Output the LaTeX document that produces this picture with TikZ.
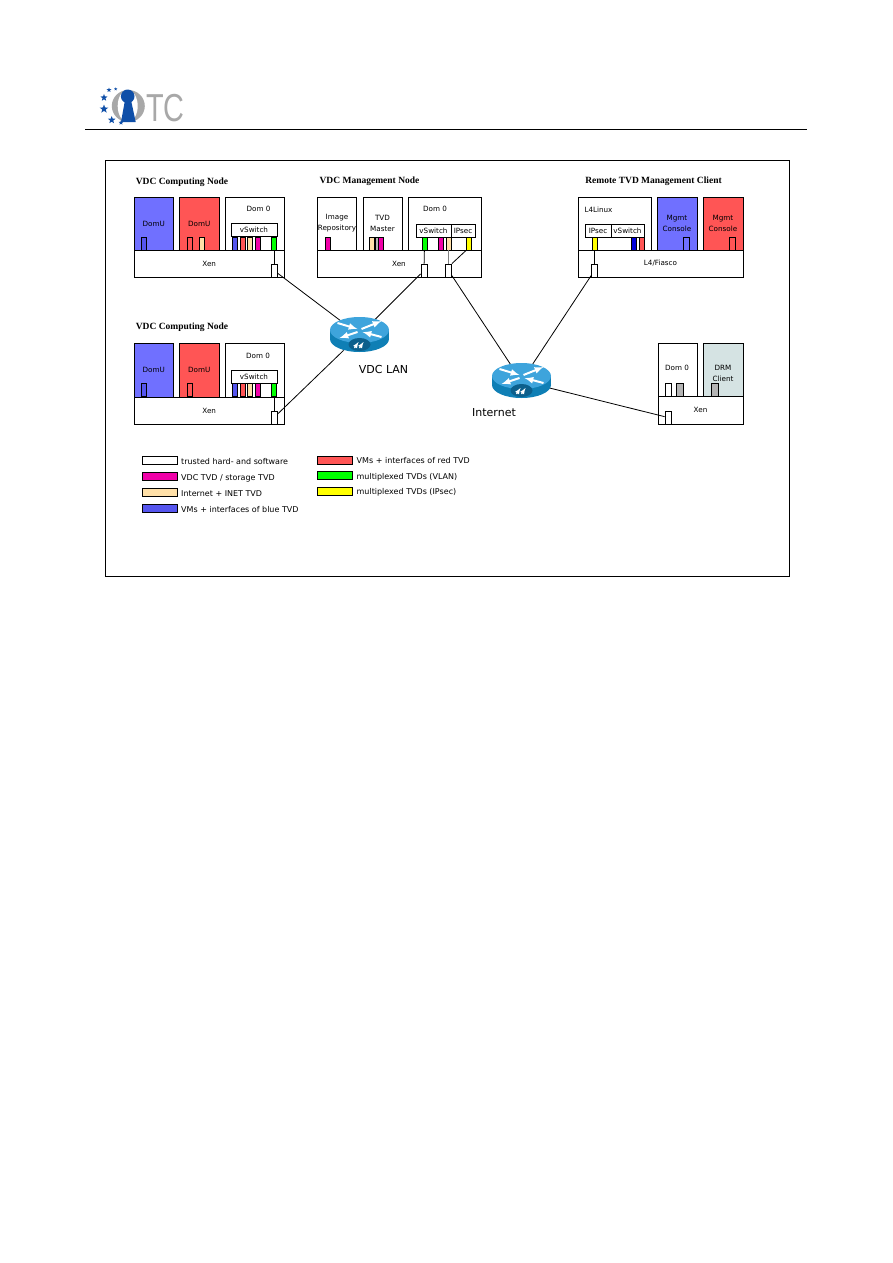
\documentclass[tikz,border=0pt]{standalone}
\usepackage{fontspec}
\setmainfont{DejaVu Sans}
\newfontfamily\titlefont{Liberation Serif}
\newfontfamily\logofont{Liberation Sans}
\usepackage{xcolor}
\usetikzlibrary{shapes.geometric}

\definecolor{vmblue}{HTML}{7070FF}
\definecolor{vmred}{HTML}{FF5555}
\definecolor{ifblue}{HTML}{5555EE}
\definecolor{iftan}{HTML}{FFE0A8}
\definecolor{ifmag}{HTML}{F000A8}
\definecolor{ifgreen}{HTML}{00FF00}
\definecolor{ifyellow}{HTML}{FFFF00}
\definecolor{ifgray}{HTML}{B4B4B4}
\definecolor{drmfill}{HTML}{D5E3E3}
\definecolor{ringgray}{HTML}{A8A8A8}
\definecolor{logoblue}{HTML}{0F4FA8}
\definecolor{routertop}{HTML}{3EA4DC}
\definecolor{routerside}{HTML}{0F7FB5}
\definecolor{routerdark}{HTML}{0C5F8C}

\tikzset{
    box/.style={draw, line width=0.8pt, inner sep=0pt, font=\fontsize{7.2}{11}\selectfont, align=center},
    iface/.style={box, minimum width=5pt, minimum height=13pt},
    port/.style={box, fill=white, minimum width=6pt, minimum height=13pt},
    switchbox/.style={box, fill=white, minimum height=13pt},
    lbl/.style={inner sep=0pt, font=\fontsize{7.2}{11}\selectfont, align=center},
    nodetitle/.style={inner sep=0pt, font=\titlefont\bfseries\fontsize{9.5}{11}\selectfont},
    netlabel/.style={inner sep=0pt, font=\fontsize{11}{13}\selectfont},
    swatch/.style={box, minimum width=35pt, minimum height=8pt},
    legtext/.style={inner sep=0pt, anchor=west, font=\fontsize{8}{9.5}\selectfont},
    link/.style={line width=0.8pt},
    routerspot/.style={ellipse, inner sep=0pt, minimum width=59pt, minimum height=36pt},
    logostar/.style={star, star points=5, star point ratio=2.4, fill=logoblue, inner sep=0pt},
    router/.pic={
        \fill[routerside] (-29.5,-5) rectangle (29.5,4);
        \fill[routerside] (0,4) ellipse[x radius=29.5, y radius=13];
        \fill[routertop] (0,-5) ellipse[x radius=29.5, y radius=13];
        \fill[routerdark] (0,9.5) ellipse[x radius=11, y radius=6.5];
        \draw[white, line width=1.1pt, -latex] (-5,13) -- (-1,7);
        \draw[white, line width=1.1pt, -latex] (0,13) -- (4,7);
        \draw[white, line width=2pt, -latex] (-22,-12) -- (-2,-6);
        \draw[white, line width=2pt, -latex] (2,-6) -- (22,-14);
        \draw[white, line width=2pt, -latex] (-2,-3) -- (-20,3);
        \draw[white, line width=2pt, -latex] (22,2) -- (3,-3);
    }
}

\begin{document}
\begin{tikzpicture}[x=1pt, y=-1pt]
    \useasboundingbox (0, 0) rectangle (893, 1263);

    % logo and page rule
    \fill[ringgray] (128.3, 106) ellipse[x radius=16.5, y radius=16];
    \fill[white] (127.7, 106) ellipse[x radius=10, y radius=16];
    \fill[logoblue] (127.7, 96.3) circle (6.8);
    \fill[logoblue] (125, 100) -- (131, 100) -- (135.7, 122) -- (121, 122) -- cycle;
    \foreach \sname/\sx/\sy/\ssize in {a/109/90/5, b/115.7/89/3.5, c/104/97.7/7.5, d/104/109/9, e/111.7/120/8, f/121/122.7/5}
        \node[logostar, minimum size=\ssize pt] (star\sname) at (\sx, \sy) {};
    \node[inner sep=0pt, anchor=west, text=ringgray, font=\logofont\fontsize{39}{40}\selectfont] (logotc) at (146, 108) {\scalebox{0.74}[1]{TC}};
    \draw[line width=0.8pt] (85, 129.5) -- (807, 129.5);

    \draw[line width=0.8pt] (105, 160) rectangle (789, 576);

    % VDC computing node, top
    \node[nodetitle] (titlea) at (182, 182.5) {VDC Computing Node};
    \node[box, fill=vmblue, minimum width=39.5pt, minimum height=53pt] (domua) at (153.7, 223.5) {DomU};
    \node[box, fill=vmred, minimum width=39.5pt, minimum height=53pt] (domub) at (199.2, 223.5) {DomU};
    \node[box, minimum width=59pt, minimum height=53pt] (domza) at (255, 223.5) {};
    \node[lbl] (domzalbl) at (258.5, 209) {Dom 0};
    \node[box, minimum width=150.5pt, minimum height=27pt] (xena) at (209.2, 263.5) {Xen};
    \node[switchbox, minimum width=46pt] (swa) at (254, 230) {vSwitch};
    \node[iface, fill=ifblue] (ifaa) at (143.7, 243.5) {};
    \node[iface, fill=vmred] (ifab) at (189.5, 243.5) {};
    \node[iface, fill=iftan] (ifac) at (202, 243.5) {};
    \node[iface, fill=ifblue] (ifad) at (234.5, 243.5) {};
    \node[iface, fill=vmred] (ifae) at (242.5, 243.5) {};
    \node[iface, fill=iftan] (ifaf) at (250, 243.5) {};
    \node[iface, fill=ifmag] (ifag) at (258, 243.5) {};
    \node[iface, fill=ifgreen] (ifah) at (274, 243.5) {};
    \node[port] (porta) at (274, 270.5) {};

    % VDC computing node, bottom
    \node[nodetitle] (titleb) at (182, 327.5) {VDC Computing Node};
    \node[box, fill=vmblue, minimum width=39.5pt, minimum height=54pt] (domuc) at (153.7, 370) {DomU};
    \node[box, fill=vmred, minimum width=39.5pt, minimum height=54pt] (domud) at (199.2, 370) {DomU};
    \node[box, minimum width=59pt, minimum height=54pt] (domzb) at (255, 370) {};
    \node[lbl] (domzblbl) at (258, 356) {Dom 0};
    \node[box, minimum width=150.5pt, minimum height=27pt] (xenb) at (209.2, 410.5) {Xen};
    \node[switchbox, minimum width=46pt] (swb) at (254, 376.5) {vSwitch};
    \node[iface, fill=ifblue] (ifba) at (143.7, 390) {};
    \node[iface, fill=vmred] (ifbb) at (189.5, 390) {};
    \node[iface, fill=ifblue] (ifbc) at (234.5, 390) {};
    \node[iface, fill=vmred] (ifbd) at (242.5, 390) {};
    \node[iface, fill=iftan] (ifbe) at (250, 390) {};
    \node[iface, fill=ifmag] (ifbf) at (258, 390) {};
    \node[iface, fill=ifgreen] (ifbg) at (274, 390) {};
    \node[port] (portb) at (274, 417.5) {};

    % VDC management node
    \node[nodetitle] (titlec) at (369.5, 181.5) {VDC Management Node};
    \node[box, minimum width=39pt, minimum height=53pt] (image) at (336.5, 223.5) {};
    \node[lbl] (imagelbl) at (337, 223) {Image\\Repository};
    \node[box, minimum width=39pt, minimum height=53pt] (master) at (382.5, 223.5) {};
    \node[lbl] (masterlbl) at (382.5, 223) {TVD\\Master};
    \node[box, minimum width=73pt, minimum height=53pt] (domzc) at (444.5, 223.5) {};
    \node[lbl] (domzclbl) at (435, 209) {Dom 0};
    \node[box, minimum width=164pt, minimum height=27pt] (xenc) at (399, 263.5) {Xen};
    \node[switchbox, minimum width=35pt] (swc) at (433.5, 230.5) {vSwitch};
    \node[switchbox, minimum width=24pt] (ipc) at (463, 230.5) {IPsec};
    \node[iface, fill=ifmag] (ifca) at (328, 243.5) {};
    \node[iface, fill=iftan] (ifcb) at (372, 243.5) {};
    \node[iface, fill=ifgray, minimum width=3pt] (ifcc) at (376.5, 243.5) {};
    \node[iface, fill=ifmag] (ifcd) at (380.5, 243.5) {};
    \node[iface, fill=ifgreen] (ifce) at (424.5, 243.5) {};
    \node[iface, fill=ifmag] (ifcf) at (440.5, 243.5) {};
    \node[iface, fill=iftan] (ifcg) at (448.5, 243.5) {};
    \node[iface, fill=ifyellow] (ifch) at (469, 243.5) {};
    \node[port] (portc) at (424, 270.5) {};
    \node[port] (portd) at (448.5, 270.5) {};

    % remote TVD management client
    \node[nodetitle] (titled) at (653.5, 181) {Remote TVD Management Client};
    \node[box, minimum width=73pt, minimum height=53pt] (linux) at (614.5, 223.5) {};
    \node[lbl] (linuxlbl) at (598.5, 209.5) {L4Linux};
    \node[box, fill=vmblue, minimum width=40pt, minimum height=53pt] (mgmta) at (677, 223.5) {Mgmt\\Console};
    \node[box, fill=vmred, minimum width=40pt, minimum height=53pt] (mgmtb) at (723, 223.5) {Mgmt\\Console};
    \node[box, minimum width=165pt, minimum height=27pt] (fiasco) at (660.5, 263.5) {L4/Fiasco};
    \node[switchbox, minimum width=26pt] (ipd) at (598, 230.5) {IPsec};
    \node[switchbox, minimum width=33pt] (swd) at (627.5, 230.5) {vSwitch};
    \node[iface, fill=ifyellow] (ifda) at (594.5, 243.5) {};
    \node[iface, fill=blue!85!black] (ifdb) at (634, 243.5) {};
    \node[iface, fill=vmred] (ifdc) at (641.5, 243.5) {};
    \node[iface, fill=vmblue, minimum width=6.5pt] (ifdd) at (686.5, 243.5) {};
    \node[iface, fill=vmred, minimum width=6.5pt] (ifde) at (732.5, 243.5) {};
    \node[port] (porte) at (594.5, 270.5) {};

    % DRM client
    \node[box, minimum width=39pt, minimum height=53pt] (domzd) at (677.5, 369.5) {};
    \node[lbl] (domzdlbl) at (677, 368) {Dom 0};
    \node[box, fill=drmfill, minimum width=40pt, minimum height=53pt] (drm) at (723, 369.5) {};
    \node[lbl] (drmlbl) at (723, 373) {DRM\\Client};
    \node[box, minimum width=85pt, minimum height=28pt] (xend) at (700.5, 410) {Xen};
    \node[iface, fill=white, minimum width=6.5pt] (ifea) at (668.5, 389.5) {};
    \node[iface, fill=ifgray, minimum width=7pt] (ifeb) at (679.5, 389.5) {};
    \node[iface, fill=ifgray, minimum width=7pt] (ifec) at (714.5, 389.5) {};
    \node[port] (portf) at (668, 417.5) {};

    % networks
    \node[routerspot] (lan) at (359.5, 335) {};
    \node[routerspot] (inet) at (521.5, 381) {};
    \node[netlabel] (lanlbl) at (383.5, 369.5) {VDC LAN};
    \node[netlabel] (inetlbl) at (494, 413) {Internet};

    \draw[link] (ifah) -- (porta);
    \draw[link] (ifbg) -- (portb);
    \draw[link] (ifce) -- (portc);
    \draw[link, gray] (ifcg) -- (portd);
    \draw[link] (ifch.south west) -- (portd.north east);
    \draw[link] (ifda) -- (porte);
    \draw[link] (porta) -- (lan);
    \draw[link] (portb) -- (lan);
    \draw[link] (portc) -- (lan);
    \draw[link] (portd) -- (inet);
    \draw[link] (porte) -- (inet);
    \draw[link] (portf) -- (inet);

    \pic at (359.5, 335) {router};
    \pic at (521.5, 381) {router};

    % legend
    \node[swatch, fill=white] (legw) at (159.5, 460.5) {};
    \node[swatch, fill=ifmag] (legm) at (159.5, 476.5) {};
    \node[swatch, fill=iftan] (legt) at (159.5, 492.2) {};
    \node[swatch, fill=ifblue] (legb) at (159.5, 508) {};
    \node[swatch, fill=vmred] (legr) at (334.5, 460) {};
    \node[swatch, fill=ifgreen] (legg) at (334.5, 475.5) {};
    \node[swatch, fill=ifyellow] (legy) at (334.5, 491.5) {};
    \node[legtext] (txtw) at (181, 461.5) {trusted hard- and software};
    \node[legtext] (txtm) at (181, 478) {VDC TVD / storage TVD};
    \node[legtext] (txtt) at (181, 493.5) {Internet + INET TVD};
    \node[legtext] (txtb) at (181, 509.5) {VMs + interfaces of blue TVD};
    \node[legtext] (txtr) at (356.5, 461) {VMs + interfaces of red TVD};
    \node[legtext] (txtg) at (356.5, 477) {multiplexed TVDs (VLAN)};
    \node[legtext] (txty) at (356.5, 492.5) {multiplexed TVDs (IPsec)};
\end{tikzpicture}
\end{document}
